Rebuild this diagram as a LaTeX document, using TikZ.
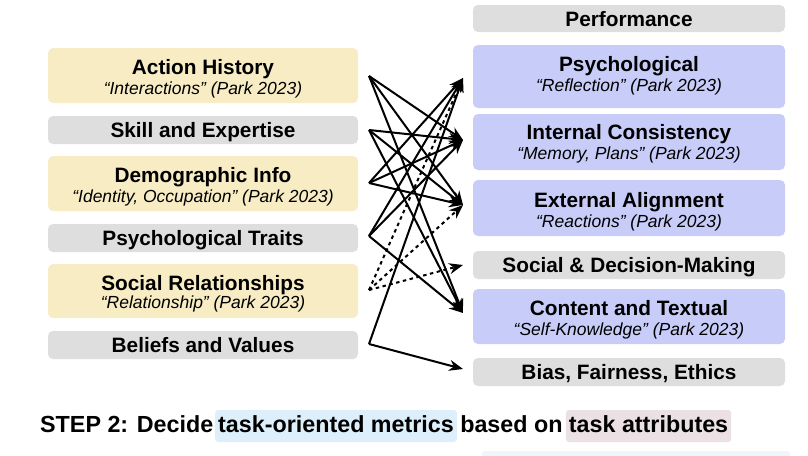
\documentclass[tikz,border=0pt]{standalone}
\usepackage{fontspec}
\setmainfont{Liberation Sans}
\usetikzlibrary{arrows.meta}
\definecolor{ylw}{HTML}{F7ECC4}
\definecolor{gry}{HTML}{DEDEDE}
\definecolor{blu}{HTML}{C8CCF8}
\definecolor{hlb}{HTML}{DDEFFA}
\definecolor{hlp}{HTML}{EBE0E4}
\definecolor{faint}{HTML}{EEF6FC}
\begin{document}
\begin{tikzpicture}[x=1pt,y=-1pt,
  boxbase/.style={rounded corners=5pt, inner sep=0pt, draw=none},
  lbox/.style={boxbase, minimum width=310pt},
  rbox/.style={boxbase, minimum width=312pt},
  ttl/.style={anchor=base, inner sep=0pt, font=\fontsize{20.8}{24}\selectfont\bfseries},
  subt/.style={anchor=base, inner sep=0pt, font=\fontsize{17.5}{20}\selectfont\itshape},
  btxt/.style={anchor=base west, inner sep=0pt, font=\fontsize{23.3}{26}\selectfont\bfseries},
  hl/.style={rounded corners=3pt, inner xsep=3pt, inner ysep=5pt, text height=17pt, text depth=5pt},
  conn/.style={line width=2pt, -{Stealth[length=14pt,width=11pt]}},
  dconn/.style={conn, dash pattern=on 3.5pt off 3.5pt}
]
\clip (0,0) rectangle (808,455);
\fill[white] (0,0) rectangle (808,455);
\useasboundingbox (0,0) rectangle (808,455);

% ---------- left boxes ----------
\node[lbox, fill=ylw, minimum height=55pt] (ah) at (203,75.5) {};
\node[ttl] (ahT) at (203,74) {Action History};
\node[subt] (ahS) at (203,94) {“Interactions” (Park 2023)};

\node[lbox, fill=gry, minimum height=28pt] (se) at (203,130) {};
\node[ttl] (seT) at (203,137.5) {Skill and Expertise};

\node[lbox, fill=ylw, minimum height=55pt] (di) at (203,183.5) {};
\node[ttl] (diT) at (203,182.5) {Demographic Info};
\node[subt] (diS) at (203,202) {“Identity, Occupation” (Park 2023)};

\node[lbox, fill=gry, minimum height=28pt] (pt) at (203,238) {};
\node[ttl] (ptT) at (203,245.5) {Psychological Traits};

\node[lbox, fill=ylw, minimum height=54pt] (sr) at (203,291) {};
\node[ttl] (srT) at (203,290.5) {Social Relationships};
\node[subt] (srS) at (203,308) {“Relationship” (Park 2023)};

\node[lbox, fill=gry, minimum height=28pt] (bv) at (203,345) {};
\node[ttl] (bvT) at (203,352.5) {Beliefs and Values};

% ---------- right boxes ----------
\node[rbox, fill=gry, minimum height=27pt] (pf) at (629,18.5) {};
\node[ttl] (pfT) at (629,26) {Performance};

\node[rbox, fill=blu, minimum height=63pt] (ps) at (629,76.5) {};
\node[ttl] (psT) at (629,71.5) {Psychological};
\node[subt] (psS) at (629,91) {“Reflection” (Park 2023)};

\node[rbox, fill=blu, minimum height=56pt] (ic) at (629,142) {};
\node[ttl] (icT) at (629,139.5) {Internal Consistency};
\node[subt] (icS) at (629,159) {“Memory, Plans” (Park 2023)};

\node[rbox, fill=blu, minimum height=56pt] (ea) at (629,208) {};
\node[ttl] (eaT) at (629,207.5) {External Alignment};
\node[subt] (eaS) at (629,227) {“Reactions” (Park 2023)};

\node[rbox, fill=gry, minimum height=28pt] (sd) at (629,265) {};
\node[ttl] (sdT) at (629,272.5) {Social \& Decision-Making};

\node[rbox, fill=blu, minimum height=55pt] (ct) at (629,316.5) {};
\node[ttl] (ctT) at (629,315.5) {Content and Textual};
\node[subt] (ctS) at (629,335) {“Self-Knowledge” (Park 2023)};

\node[rbox, fill=gry, minimum height=28pt] (bf) at (629,372) {};
\node[ttl] (bfT) at (629,379.5) {Bias, Fairness, Ethics};

% ---------- connector ends ----------
\coordinate (s1) at (369,76);
\coordinate (s2) at (369,130);
\coordinate (s3) at (369,183);
\coordinate (s4) at (369,236);
\coordinate (s5) at (369,290);
\coordinate (s6) at (369,344);
\coordinate (t1) at (463,78);
\coordinate (t2) at (463,140);
\coordinate (t3) at (463,205);
\coordinate (t4) at (463,265);
\coordinate (t5) at (463,313);
\coordinate (t6) at (463,369);

\draw[conn] (s1) -- (t2);
\draw[conn] (s1) -- (t3);
\draw[conn] (s1) -- (t5);
\draw[conn] (s2) -- (t2);
\draw[conn] (s2) -- (t3);
\draw[conn] (s2) -- (t5);
\draw[conn] (s3) -- (t1);
\draw[conn] (s3) -- (t2);
\draw[conn] (s3) -- (t3);
\draw[conn] (s4) -- (t1);
\draw[conn] (s4) -- (t2);
\draw[conn] (s4) -- (t5);
\draw[dconn] (s5) -- (t1);
\draw[dconn] (s5) -- (t3);
\draw[dconn] (s5) -- (t4);
\draw[conn] (s6) -- (t1);
\draw[conn] (s6) -- (t6);

% ---------- bottom line ----------
\node[btxt] (st1) at (40,432) {STEP 2: Decide};
\node[btxt, hl, fill=hlb] (st2) at ([xshift=1.5pt]st1.base east) {task-oriented metrics};
\node[btxt] (st3) at ([xshift=3pt]st2.base east) {based on};
\node[btxt, hl, fill=hlp] (st4) at ([xshift=3pt]st3.base east) {task attributes};

\fill[faint, rounded corners=3pt] (482,451) rectangle (790,470);
\end{tikzpicture}
\end{document}
